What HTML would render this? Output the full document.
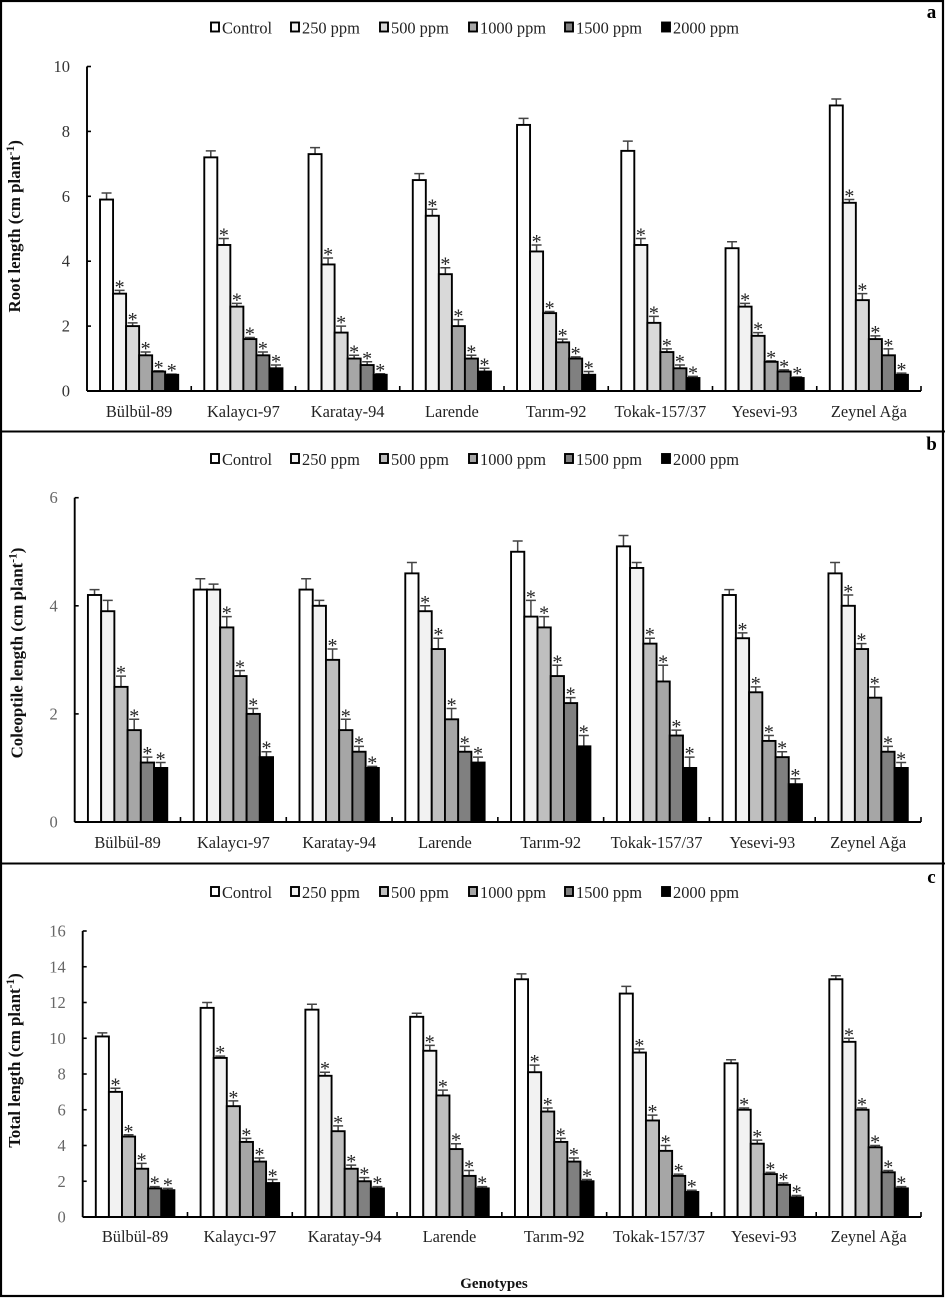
<!DOCTYPE html>
<html lang="en">
<head>
<meta charset="utf-8">
<title>Seedling length by genotype and dose</title>
<style>
html,body{margin:0;padding:0;background:#fff;width:945px;height:1298px;overflow:hidden}
svg{display:block;font-family:"Liberation Serif",serif}
</style>
</head>
<body>
<svg id="figure" xmlns="http://www.w3.org/2000/svg" width="945" height="1298" viewBox="0 0 945 1298"></svg>
<script>
const genotypes = ["Bülbül-89","Kalaycı-97","Karatay-94","Larende","Tarım-92","Tokak-157/37","Yesevi-93","Zeynel Ağa"];
const treatments = ["Control","250 ppm","500 ppm","1000 ppm","1500 ppm","2000 ppm"];

const rootValues = [
  [5.9,3.0,2.0,1.1,0.6,0.5],[7.2,4.5,2.6,1.6,1.1,0.7],[7.3,3.9,1.8,1.0,0.8,0.5],[6.5,5.4,3.6,2.0,1.0,0.6],
  [8.2,4.3,2.4,1.5,1.0,0.5],[7.4,4.5,2.1,1.2,0.7,0.4],[4.4,2.6,1.7,0.9,0.6,0.4],[8.8,5.8,2.8,1.6,1.1,0.5]
];
const rootErrors = [
  [0.2,0.1,0.1,0.1,0.02,0.02],[0.2,0.2,0.1,0.05,0.1,0.1],[0.2,0.2,0.2,0.1,0.1,0.03],[0.2,0.2,0.2,0.2,0.1,0.1],
  [0.2,0.2,0.05,0.1,0.05,0.1],[0.3,0.2,0.2,0.1,0.1,0.05],[0.2,0.1,0.1,0.03,0.05,0.03],[0.2,0.1,0.2,0.1,0.2,0.05]
];
const rootStars = [
  [0,1,1,1,1,1],[0,1,1,1,1,1],[0,1,1,1,1,1],[0,1,1,1,1,1],
  [0,1,1,1,1,1],[0,1,1,1,1,1],[0,1,1,1,1,1],[0,1,1,1,1,1]
];
const rootTicks = [0,2,4,6,8,10];

const coleoptileValues = [
  [4.2,3.9,2.5,1.7,1.1,1.0],[4.3,4.3,3.6,2.7,2.0,1.2],[4.3,4.0,3.0,1.7,1.3,1.0],[4.6,3.9,3.2,1.9,1.3,1.1],
  [5.0,3.8,3.6,2.7,2.2,1.4],[5.1,4.7,3.3,2.6,1.6,1.0],[4.2,3.4,2.4,1.5,1.2,0.7],[4.6,4.0,3.2,2.3,1.3,1.0]
];
const coleoptileErrors = [
  [0.1,0.2,0.2,0.2,0.1,0.1],[0.2,0.1,0.2,0.1,0.1,0.1],[0.2,0.1,0.2,0.2,0.1,0.03],[0.2,0.1,0.2,0.2,0.1,0.1],
  [0.2,0.3,0.2,0.2,0.1,0.2],[0.2,0.1,0.1,0.3,0.1,0.2],[0.1,0.1,0.1,0.1,0.1,0.1],[0.2,0.2,0.1,0.2,0.1,0.1]
];
const coleoptileStars = [
  [0,0,1,1,1,1],[0,0,1,1,1,1],[0,0,1,1,1,1],[0,1,1,1,1,1],
  [0,1,1,1,1,1],[0,0,1,1,1,1],[0,1,1,1,1,1],[0,1,1,1,1,1]
];
const coleoptileTicks = [0,2,4,6];

const totalValues = [
  [10.1,7.0,4.5,2.7,1.6,1.5],[11.7,8.9,6.2,4.2,3.1,1.9],[11.6,7.9,4.8,2.7,2.0,1.6],[11.2,9.3,6.8,3.8,2.3,1.6],
  [13.3,8.1,5.9,4.2,3.1,2.0],[12.5,9.2,5.4,3.7,2.3,1.4],[8.6,6.0,4.1,2.4,1.8,1.1],[13.3,9.8,6.0,3.9,2.5,1.6]
];
const totalErrors = [
  [0.2,0.2,0.1,0.3,0.1,0.1],[0.3,0.1,0.3,0.2,0.2,0.2],[0.3,0.2,0.3,0.2,0.2,0.1],[0.2,0.3,0.3,0.3,0.3,0.1],
  [0.3,0.4,0.2,0.2,0.2,0.1],[0.4,0.2,0.3,0.3,0.1,0.1],[0.2,0.1,0.2,0.1,0.1,0.1],[0.2,0.2,0.1,0.1,0.1,0.1]
];
const totalStars = [
  [0,1,1,1,1,1],[0,1,1,1,1,1],[0,1,1,1,1,1],[0,1,1,1,1,1],
  [0,1,1,1,1,1],[0,1,1,1,1,1],[0,1,1,1,1,1],[0,1,1,1,1,1]
];
const totalTicks = [0,2,4,6,8,10,12,14,16];

const NS = "http://www.w3.org/2000/svg";
const root = document.getElementById("figure");

function make(parent, tag, attrs, text) {
  const el = document.createElementNS(NS, tag);
  for (const k in attrs) el.setAttribute(k, attrs[k]);
  if (text !== undefined) el.textContent = text;
  parent.appendChild(el);
  return el;
}

function drawPanel(cfg) {
  const group = make(root, "g", {});
  
  

  const maxTick = cfg.ticks[cfg.ticks.length - 1];
  const yScale = v => cfg.y0 - (v / maxTick) * (cfg.y0 - cfg.yTop);
  const catW = (cfg.xEnd - cfg.x0) / genotypes.length;
  const barW = catW / 8;
  const xScale = (g, t) => cfg.x0 + g * catW + barW + t * barW;

  // legend
  const legendX = [210, 290, 379, 468, 564, 661];
  treatments.forEach((name, t) => {
    const entry = make(group, "g", {});
    
    
    make(entry, "rect", {x: legendX[t] + 1, y: cfg.legendY - 11, width: 8, height: 9, fill: cfg.colors[t], stroke: "#000", "stroke-width": 1.9});
    make(entry, "text", {x: legendX[t] + 12, y: cfg.legendY, "font-size": 16.4, fill: "#222"}, name);
  });

  // panel letter
  const letter = make(group, "text", {x: 931.5, y: cfg.letterY, "font-size": 19, "font-weight": "bold", "text-anchor": "middle", fill: "#000"}, cfg.letter);
  
  

  // y title
  const title = make(group, "text", {transform: "translate(" + cfg.titleX + "," + cfg.titleY + ") rotate(-90)", "font-size": 16.9, "font-weight": "bold", "text-anchor": "middle", fill: "#111"});
  
  
  make(title, "tspan", {}, cfg.title + " (cm plant");
  make(title, "tspan", {dy: -6, "font-size": 11.5}, "-1");
  make(title, "tspan", {dy: 6}, ")");

  // bars
  cfg.values.forEach((row, g) => {
    row.forEach((v, t) => {
      const x = xScale(g, t);
      const top = yScale(v);
      const capY = yScale(v + cfg.errors[g][t]);
      const cx = x + barW / 2;
      const err = make(group, "path", {d: "M" + cx + " " + top + "V" + capY + "M" + (cx - 5) + " " + capY + "H" + (cx + 5), stroke: "#444", "stroke-width": 1.5, fill: "none"});
      
      
      if (cfg.stars[g][t]) {
        const star = make(group, "text", {x: cx, y: capY + 3, "font-size": 20, "text-anchor": "middle", fill: "#222"}, "*");
        
        
      }
    });
    row.forEach((v, t) => {
      const top = yScale(v);
      const bar = make(group, "rect", {x: xScale(g, t), y: top, width: barW, height: cfg.y0 - top, fill: cfg.colors[t], stroke: "#000", "stroke-width": 1.9});
      
      
    });
  });

  // axes
  const yAxis = make(group, "line", {x1: cfg.x0, x2: cfg.x0, y1: cfg.yTop, y2: cfg.y0, stroke: "#000", "stroke-width": 1.9});
  
  
  const xAxis = make(group, "line", {x1: cfg.x0, x2: cfg.xEnd, y1: cfg.y0, y2: cfg.y0, stroke: "#000", "stroke-width": 1.9});
  
  

  cfg.ticks.forEach(tick => {
    const y = yScale(tick);
    make(group, "line", {x1: cfg.x0, x2: cfg.x0 + 4, y1: y, y2: y, stroke: "#000", "stroke-width": 1.6});
    const label = make(group, "text", {x: cfg.x0 - 17, y: y + 5.5, "font-size": 16.5, "text-anchor": "end", fill: cfg.tickColor}, tick);
    
    
  });

  genotypes.forEach((name, g) => {
    const bx = cfg.x0 + (g + 1) * catW;
    make(group, "line", {x1: bx, x2: bx, y1: cfg.y0, y2: cfg.y0 - 5, stroke: "#000", "stroke-width": 1.6});
    const label = make(group, "text", {x: cfg.x0 + (g + 0.5) * catW, y: cfg.labelY, "font-size": 16.4, "text-anchor": "middle", fill: "#222"}, name);
    
    
  });
}

// outer frame and panel dividers
const frame = make(root, "rect", {x: 1, y: 1, width: 942, height: 1295, fill: "#fff", stroke: "#000", "stroke-width": 2.2});


const dividerOne = make(root, "line", {x1: 0, x2: 945, y1: 431.5, y2: 431.5, stroke: "#000", "stroke-width": 2});


const dividerTwo = make(root, "line", {x1: 0, x2: 945, y1: 863.5, y2: 863.5, stroke: "#000", "stroke-width": 2});



drawPanel({letter: "a", title: "Root length", values: rootValues, errors: rootErrors, stars: rootStars, ticks: rootTicks,
  x0: 87, xEnd: 921, yTop: 66.5, y0: 391, legendY: 33.5, letterY: 18, labelY: 417, titleX: 20, titleY: 226.3, tickColor: "#333",
  colors: ["#ffffff","#f2f2f2","#d9d9d9","#a6a6a6","#808080","#000000"]});
drawPanel({letter: "b", title: "Coleoptile length", values: coleoptileValues, errors: coleoptileErrors, stars: coleoptileStars, ticks: coleoptileTicks,
  x0: 74.7, xEnd: 921, yTop: 497.7, y0: 822, legendY: 465, letterY: 450, labelY: 848, titleX: 22.7, titleY: 653, tickColor: "#666",
  colors: ["#ffffff","#f2f2f2","#bfbfbf","#a6a6a6","#808080","#000000"]});
drawPanel({letter: "c", title: "Total length", values: totalValues, errors: totalErrors, stars: totalStars, ticks: totalTicks,
  x0: 82.7, xEnd: 921, yTop: 931, y0: 1217, legendY: 898, letterY: 883, labelY: 1242, titleX: 20, titleY: 1060.5, tickColor: "#666",
  colors: ["#ffffff","#f2f2f2","#bfbfbf","#a6a6a6","#808080","#000000"]});

const xTitle = make(root, "text", {x: 494, y: 1288, "font-size": 15, "font-weight": "bold", "text-anchor": "middle", fill: "#111"}, "Genotypes");


</script>
</body>
</html>
